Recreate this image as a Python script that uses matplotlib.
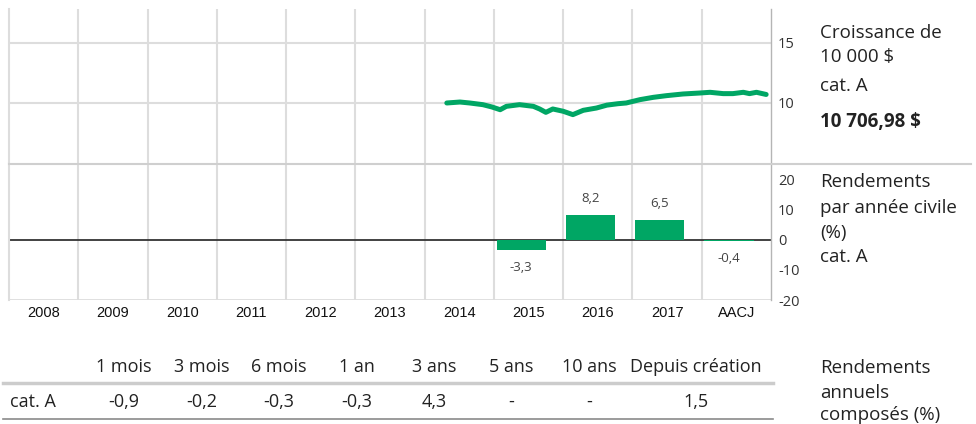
#!/usr/bin/env python3
import matplotlib
matplotlib.use("Agg")
import matplotlib.pyplot as plt
from matplotlib.lines import Line2D
import numpy as np

GREEN = "#00a664"
GRID = "#dddddd"
TXT = "#222222"

# category axis
categories = ["2008", "2009", "2010", "2011", "2012", "2013", "2014",
              "2015", "2016", "2017", "AACJ"]
first_year = 2008

# growth of 10 000 $ (thousands), x in decimal years
growth_x = [2014.32, 2014.51, 2014.65, 2014.84, 2014.97, 2015.09, 2015.18,
            2015.37, 2015.57, 2015.66, 2015.75, 2015.85, 2016.00, 2016.14,
            2016.29, 2016.48, 2016.63, 2016.79, 2016.91, 2017.11, 2017.30,
            2017.49, 2017.73, 2017.97, 2018.12, 2018.31, 2018.45, 2018.60,
            2018.69, 2018.79, 2018.93]
growth_y = [10.00, 10.08, 10.00, 9.86, 9.67, 9.44, 9.72,
            9.86, 9.72, 9.50, 9.22, 9.50, 9.31, 9.03,
            9.39, 9.58, 9.82, 9.94, 10.00, 10.28, 10.47,
            10.61, 10.75, 10.83, 10.89, 10.78, 10.78, 10.89,
            10.78, 10.89, 10.71]
growth_final = "10 706,98 $"

# calendar year returns (%)
bar_cats = ["2015", "2016", "2017", "AACJ"]
bar_vals = [-3.3, 8.2, 6.5, -0.4]

# annualised returns table
table_cols = ["1 mois", "3 mois", "6 mois", "1 an", "3 ans", "5 ans",
              "10 ans", "Depuis création"]
table_vals = ["-0,9", "-0,2", "-0,3", "-0,3", "4,3", "-", "-", "1,5"]
table_row = "cat. A"

W, H = 976, 424


def px(x, y):
    return x / W, 1 - y / H


def fmt(v):
    return ("%.1f" % v).replace(".", ",")


plt.rcParams["font.family"] = ["Open Sans", "DejaVu Sans"]

fig = plt.figure(figsize=(W / 100, H / 100), dpi=100)
ax1 = fig.add_axes([9 / W, 1 - 163 / H, 762 / W, 154 / H])
ax2 = fig.add_axes([9 / W, 1 - 300 / H, 762 / W, 136 / H])

n = len(categories)
bounds = first_year + np.arange(n + 1)
centers = first_year + np.arange(n) + 0.5

for ax in (ax1, ax2):
    ax.set_xlim(first_year, first_year + n)
    for b in bounds[1:-1]:
        ax.axvline(b, color=GRID, lw=1.5, zorder=0)
    for s in ("top", "bottom"):
        ax.spines[s].set_visible(False)
    ax.spines["left"].set_color(GRID)
    ax.spines["left"].set_linewidth(1.5)
    ax.spines["right"].set_color("#b5b5b5")
    ax.spines["right"].set_linewidth(1)
    ax.yaxis.tick_right()
    ax.tick_params(axis="y", length=0, pad=5, labelsize=10.5, labelcolor="#333333")

# top panel: growth line
ax1.set_ylim(5, 17.83)
for v in (10, 15):
    ax1.axhline(v, color=GRID, lw=1.5, zorder=0)
ax1.plot(growth_x, growth_y, color=GREEN, lw=3.6, solid_capstyle="round", zorder=3)
ax1.set_yticks([10, 15])
ax1.set_yticklabels(["10", "15"])
ax1.set_xticks([])

# bottom panel: bars
ax2.set_ylim(-20, 25)
ax2.axhline(0, color="#333333", lw=1.3, zorder=2)
ax2.axhline(-20, color=GRID, lw=2, zorder=0)
bar_x = [first_year + categories.index(c) + 0.04 for c in bar_cats]
ax2.bar(bar_x, bar_vals, width=0.71, align="edge", color=GREEN, zorder=3)
for x, v in zip(bar_x, bar_vals):
    off = 12 if v > 0 else -13
    ax2.annotate(fmt(v), (x + 0.355, v), xytext=(0, off), textcoords="offset points",
                 ha="center", va="center", fontsize=9.5, color="#444444")
ax2.set_yticks([20, 10, 0, -10, -20])
ax2.set_yticklabels(["20", "10", "0", "-10", "-20"])
ax2.set_xticks(centers)
ax2.set_xticklabels(categories, family=["Liberation Sans Narrow", "Liberation Sans"],
                    fontsize=10.5, color="#111111")
ax2.tick_params(axis="x", length=0, pad=4)

# separator between the panels
fig.add_artist(Line2D([9 / W, 971 / W], [1 - 163.5 / H] * 2, color="#cfcfcf", lw=1.5))

# right-hand captions
rt = dict(fontsize=13.5, color=TXT, va="center", ha="left")
fig.text(*px(820, 32.7), "Croissance de", **rt)
fig.text(*px(820, 56.7), "10 000 $", **rt)
fig.text(*px(820, 86), "cat. A", **rt)
fig.text(*px(820, 122), growth_final, fontweight="bold", **rt)

fig.text(*px(820, 182), "Rendements", **rt)
fig.text(*px(820, 208), "par année civile", **rt)
fig.text(*px(820, 233), "(%)", **rt)
fig.text(*px(820, 257), "cat. A", **rt)

fig.text(*px(820, 368), "Rendements", **rt)
fig.text(*px(820, 393), "annuels", **rt)
fig.text(*px(820, 415), "composés (%)", **rt)

# annualised returns table
col_x = [124 + 77.5 * i for i in range(len(table_cols) - 1)] + [696]
tt = dict(fontsize=13, color=TXT, va="center", ha="center")
for cx, head, val in zip(col_x, table_cols, table_vals):
    fig.text(*px(cx, 367), head, **tt)
    fig.text(*px(cx, 402), val, **tt)
fig.text(*px(10, 402), table_row, fontsize=13, color=TXT, va="center", ha="left")
fig.add_artist(Line2D([3 / W, 773 / W], [1 - 383 / H] * 2, color="#cccccc", lw=2.5))
fig.add_artist(Line2D([3 / W, 773 / W], [1 - 419 / H] * 2, color="#8a8a8a", lw=1.2))

fig.savefig("out.png", dpi=100)
